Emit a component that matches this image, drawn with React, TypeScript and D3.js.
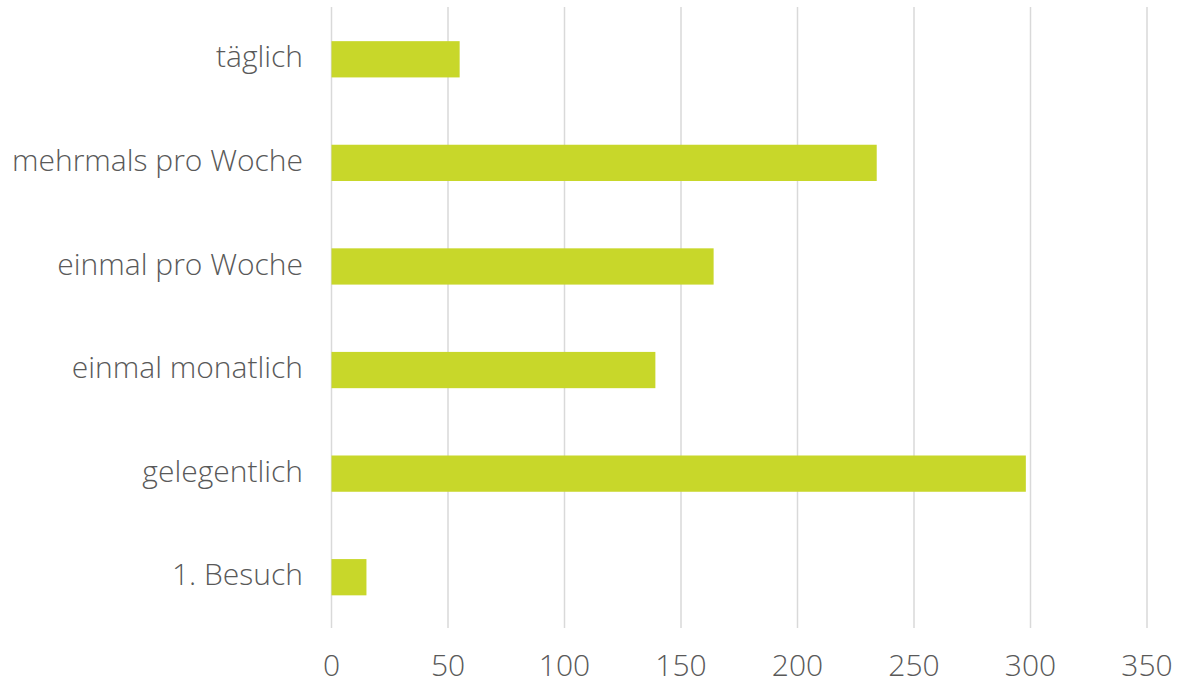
import React from "react";
import * as d3 from "d3";

const categories = ["täglich", "mehrmals pro Woche", "einmal pro Woche", "einmal monatlich", "gelegentlich", "1. Besuch"];
const values = [55, 234, 164, 139, 298, 15];
const ticks = [0, 50, 100, 150, 200, 250, 300, 350];

export default function App() {
  const W = 1183, H = 684;
  const x = d3.scaleLinear().domain([0, 350]).range([331.5, 1147]);
  const y = d3.scaleBand<string>().domain(categories).range([7.5, 629]).paddingInner(0.65).paddingOuter(0.325);
  const font = "'Open Sans', sans-serif";
  return (
    <svg width={W} height={H} style={{ position: "absolute", left: 0, top: 0 }}>
      {ticks.map(t => (
        <line key={t} x1={x(t)} x2={x(t)} y1={7} y2={628} stroke="#d9d9d9" strokeWidth={1.5} />
      ))}
      {categories.map((c, i) => (
        <rect key={c} x={x(0)} y={y(c)} width={x(values[i]) - x(0)} height={y.bandwidth()} fill="#c8d72a" />
      ))}
      {categories.map(c => (
        <text key={c} x={303} y={(y(c) as number) + y.bandwidth() / 2} dy="0.27em" textAnchor="end"
          fontFamily={font} fontWeight={300} fontSize={30} fill="#595959">{c}</text>
      ))}
      {ticks.map(t => (
        <text key={t} x={x(t)} y={676} textAnchor="middle" fontFamily={font} fontWeight={300} fontSize={30} fill="#595959">{t}</text>
      ))}
    </svg>
  );
}
